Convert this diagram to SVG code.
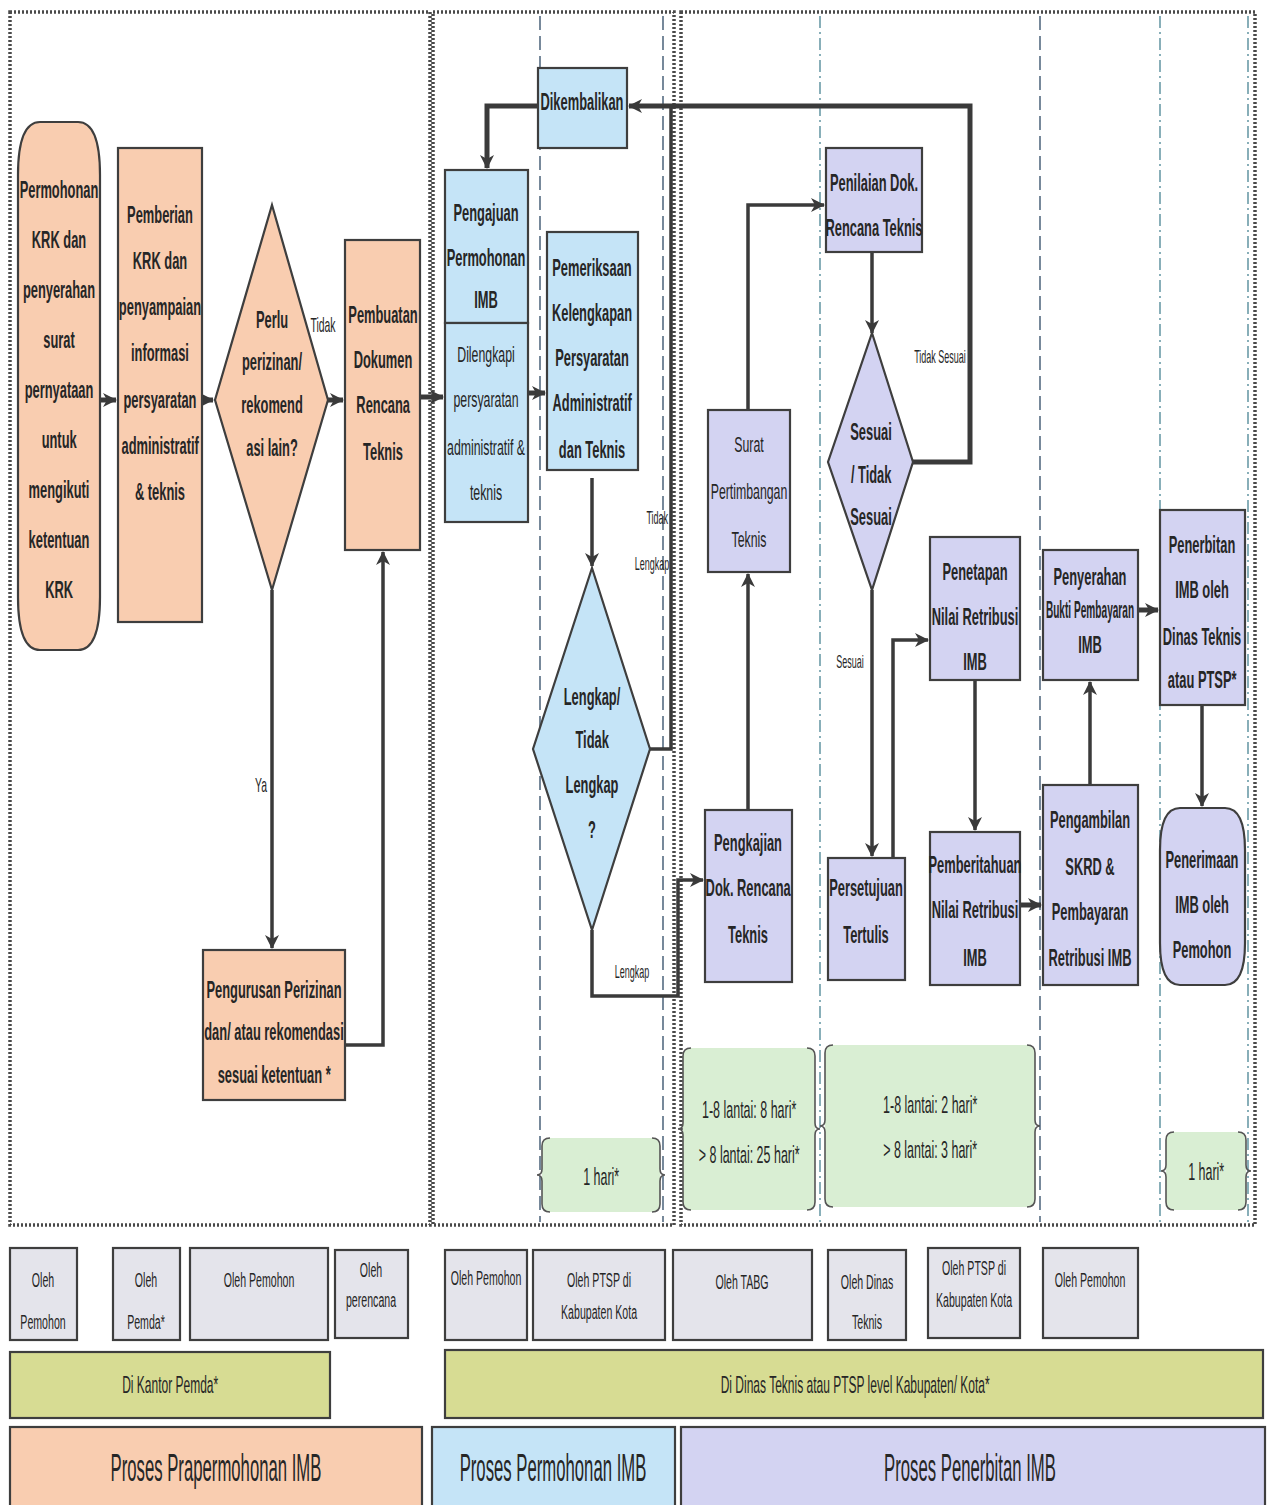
<svg xmlns="http://www.w3.org/2000/svg" width="1271" height="1505" viewBox="0 0 1271 1505">
<defs>
<marker id="arr" markerUnits="userSpaceOnUse" markerWidth="14" markerHeight="14" refX="13" refY="7" orient="auto">
<path d="M0,0 L14,7 L0,14 L4,7 z" fill="#3a3a3a"/>
</marker>
</defs>
<style>
.box{stroke:#3e3e3e;stroke-width:2.2}
.pa{fill:#f9cdb0}.bl{fill:#c5e4f7}.lv{fill:#d3d3f2}.gr{fill:#d9eed3}.gy{fill:#e4e4eb}.ol{fill:#d7dc93}
.frame{fill:none;stroke:#4a4a4a;stroke-width:3.5;stroke-dasharray:2 2}
.lane{fill:none;stroke:#2f4a66;stroke-width:1.3;stroke-dasharray:14 6}
.lane2{fill:none;stroke:#3a7a8a;stroke-width:1.2;stroke-dasharray:12 4 2 4}
.c{fill:none;stroke:#3a3a3a;stroke-width:3.5}
.ct{fill:none;stroke:#3a3a3a;stroke-width:5}
.brace{fill:none;stroke:#555;stroke-width:1.6}
text{font-family:"Liberation Sans",Arial,sans-serif;fill:#262626;transform-box:fill-box;transform-origin:center}
.n{font-size:23px;font-weight:bold;text-anchor:middle;dominant-baseline:central;transform:scaleX(.56)}
.nr{font-size:22px;text-anchor:middle;dominant-baseline:central;transform:scaleX(.56)}
.sq{font-size:23px;font-weight:bold;text-anchor:middle;dominant-baseline:central;transform:scaleX(.44)}
.lb{font-size:20px;text-anchor:middle;dominant-baseline:central;transform:scaleX(.52)}
.ls{font-size:18px;text-anchor:middle;dominant-baseline:central;transform:scaleX(.5)}
.ob{font-size:20px;text-anchor:middle;dominant-baseline:central;transform:scaleX(.53)}
.bar{font-size:24px;text-anchor:middle;dominant-baseline:central;transform:scaleX(.5)}
.big{font-size:38px;text-anchor:middle;dominant-baseline:central;transform:scaleX(.44)}
.tm{font-size:24px;text-anchor:middle;dominant-baseline:central;transform:scaleX(.52)}
</style>
<rect width="1271" height="1505" fill="#ffffff"/>

<g id="frames">
<rect class="frame" x="10" y="12" width="420" height="1213"/>
<rect class="frame" x="433" y="12" width="241" height="1213"/>
<rect class="frame" x="681" y="12" width="574" height="1213"/>
<line class="lane" x1="540" y1="16" x2="540" y2="1222"/>
<line class="lane" x1="663" y1="16" x2="663" y2="1222"/>
<line class="lane2" x1="820" y1="16" x2="820" y2="1222"/>
<line class="lane" x1="1040" y1="16" x2="1040" y2="1222"/>
<line class="lane2" x1="1160" y1="16" x2="1160" y2="1222"/>
<line class="lane2" x1="1248" y1="16" x2="1248" y2="1222"/>
</g>

<g id="connectors">
<path class="ct" d="M100,400 H116" marker-end="url(#arr)"/>
<path class="ct" d="M202,400 H213" marker-end="url(#arr)"/>
<path class="ct" d="M328,400 H343" marker-end="url(#arr)"/>
<path class="c" d="M272,590 V948" marker-end="url(#arr)"/>
<path class="c" d="M345,1045 H383 V552" marker-end="url(#arr)"/>
<path class="ct" d="M420,397 H443" marker-end="url(#arr)"/>
<path class="ct" d="M913,462 H970 V106 H629" marker-end="url(#arr)"/>
<path class="c" d="M650,749 H671 V106"/>
<path class="ct" d="M538,106 H487 V168" marker-end="url(#arr)"/>
<path class="ct" d="M528,393 H545" marker-end="url(#arr)"/>
<path class="c" d="M592,478 V566" marker-end="url(#arr)"/>
<path class="c" d="M592,930 V996 H678 V880 H703" marker-end="url(#arr)"/>
<path class="c" d="M748,810 V574" marker-end="url(#arr)"/>
<path class="c" d="M748,410 V205 H824" marker-end="url(#arr)"/>
<path class="c" d="M872,252 V333" marker-end="url(#arr)"/>
<path class="c" d="M872,590 V856" marker-end="url(#arr)"/>
<path class="c" d="M893,858 V640 H928" marker-end="url(#arr)"/>
<path class="c" d="M975,680 V830" marker-end="url(#arr)"/>
<path class="ct" d="M1020,905 H1041" marker-end="url(#arr)"/>
<path class="c" d="M1090,785 V682" marker-end="url(#arr)"/>
<path class="ct" d="M1138,610 H1158" marker-end="url(#arr)"/>
<path class="c" d="M1202,705 V806" marker-end="url(#arr)"/>
<text class="lb" x="323" y="325">Tidak</text>
<text class="lb" x="261" y="785">Ya</text>
<text class="ls" x="657" y="518">Tidak</text>
<text class="ls" x="652" y="564">Lengkap</text>
<text class="ls" x="632" y="972">Lengkap</text>
<text class="ls" x="940" y="357">Tidak Sesuai</text>
<text class="ls" x="850" y="662">Sesuai</text>
</g>

<g id="n-permohonan-krk">
<path class="box pa" d="M40,122 H78 Q100,122 100,175 V597 Q100,650 78,650 H40 Q18,650 18,597 V175 Q18,122 40,122 Z"/>
<text class="n" x="59" y="190">Permohonan</text>
<text class="n" x="59" y="240">KRK dan</text>
<text class="n" x="59" y="290">penyerahan</text>
<text class="n" x="59" y="340">surat</text>
<text class="n" x="59" y="390">pernyataan</text>
<text class="n" x="59" y="440">untuk</text>
<text class="n" x="59" y="490">mengikuti</text>
<text class="n" x="59" y="540">ketentuan</text>
<text class="n" x="59" y="590">KRK</text>
</g>

<g id="n-pemberian-krk">
<rect class="box pa" x="118" y="148" width="84" height="474"/>
<text class="n" x="160" y="215">Pemberian</text>
<text class="n" x="160" y="261">KRK dan</text>
<text class="n" x="160" y="307">penyampaian</text>
<text class="n" x="160" y="353">informasi</text>
<text class="n" x="160" y="400">persyaratan</text>
<text class="n" x="160" y="446">administratif</text>
<text class="n" x="160" y="492">&amp; teknis</text>
</g>

<g id="n-perlu-perizinan">
<polygon class="box pa" points="272,205 328,400 272,590 215,400"/>
<text class="n" x="272" y="320">Perlu</text>
<text class="n" x="272" y="362">perizinan/</text>
<text class="n" x="272" y="405">rekomend</text>
<text class="n" x="272" y="448">asi lain?</text>
</g>

<g id="n-pembuatan-dokumen">
<rect class="box pa" x="345" y="240" width="75" height="310"/>
<text class="n" x="383" y="315">Pembuatan</text>
<text class="n" x="383" y="360">Dokumen</text>
<text class="n" x="383" y="405">Rencana</text>
<text class="n" x="383" y="452">Teknis</text>
</g>

<g id="n-pengurusan-perizinan">
<rect class="box pa" x="203" y="950" width="142" height="150"/>
<text class="n" x="274" y="990">Pengurusan Perizinan</text>
<text class="n" x="274" y="1032">dan/ atau rekomendasi</text>
<text class="n" x="274" y="1075">sesuai ketentuan *</text>
</g>

<g id="n-dikembalikan">
<rect class="box bl" x="538" y="68" width="89" height="80"/>
<text class="n" x="582" y="102">Dikembalikan</text>
</g>

<g id="n-pengajuan">
<rect class="box bl" x="445" y="170" width="83" height="153"/>
<text class="n" x="486" y="213">Pengajuan</text>
<text class="n" x="486" y="258">Permohonan</text>
<text class="n" x="486" y="300">IMB</text>
</g>

<g id="n-dilengkapi">
<rect class="box bl" x="445" y="323" width="83" height="199"/>
<text class="nr" x="486" y="355">Dilengkapi</text>
<text class="nr" x="486" y="400">persyaratan</text>
<text class="nr" x="486" y="448">administratif &amp;</text>
<text class="nr" x="486" y="493">teknis</text>
</g>

<g id="n-pemeriksaan">
<rect class="box bl" x="547" y="232" width="91" height="238"/>
<text class="n" x="592" y="268">Pemeriksaan</text>
<text class="n" x="592" y="313">Kelengkapan</text>
<text class="n" x="592" y="358">Persyaratan</text>
<text class="n" x="592" y="403">Administratif</text>
<text class="n" x="592" y="450">dan Teknis</text>
</g>

<g id="n-lengkap">
<polygon class="box bl" points="592,568 650,749 592,930 533,749"/>
<text class="n" x="592" y="697">Lengkap/</text>
<text class="n" x="592" y="740">Tidak</text>
<text class="n" x="592" y="785">Lengkap</text>
<text class="n" x="592" y="830">?</text>
</g>

<g id="n-pengkajian">
<rect class="box lv" x="705" y="810" width="87" height="172"/>
<text class="n" x="748" y="843">Pengkajian</text>
<text class="n" x="748" y="888">Dok. Rencana</text>
<text class="n" x="748" y="935">Teknis</text>
</g>

<g id="n-surat-pertimbangan">
<rect class="box lv" x="708" y="410" width="82" height="162"/>
<text class="nr" x="749" y="445">Surat</text>
<text class="nr" x="749" y="492">Pertimbangan</text>
<text class="nr" x="749" y="540">Teknis</text>
</g>

<g id="n-penilaian">
<rect class="box lv" x="826" y="148" width="96" height="104"/>
<text class="n" x="874" y="183">Penilaian Dok.</text>
<text class="n" x="874" y="228">Rencana Teknis</text>
</g>

<g id="n-sesuai">
<polygon class="box lv" points="872,333 913,462 872,590 828,462"/>
<text class="n" x="871" y="432">Sesuai</text>
<text class="n" x="871" y="475">/ Tidak</text>
<text class="n" x="871" y="517">Sesuai</text>
</g>

<g id="n-persetujuan">
<rect class="box lv" x="828" y="858" width="77" height="122"/>
<text class="n" x="866" y="888">Persetujuan</text>
<text class="n" x="866" y="935">Tertulis</text>
</g>

<g id="n-penetapan">
<rect class="box lv" x="930" y="537" width="90" height="143"/>
<text class="n" x="975" y="572">Penetapan</text>
<text class="n" x="975" y="617">Nilai Retribusi</text>
<text class="n" x="975" y="662">IMB</text>
</g>

<g id="n-pemberitahuan">
<rect class="box lv" x="930" y="832" width="90" height="153"/>
<text class="n" x="975" y="865">Pemberitahuan</text>
<text class="n" x="975" y="910">Nilai Retribusi</text>
<text class="n" x="975" y="958">IMB</text>
</g>

<g id="n-penyerahan">
<rect class="box lv" x="1043" y="550" width="95" height="130"/>
<text class="n" x="1090" y="577">Penyerahan</text>
<text class="sq" x="1090" y="610">Bukti Pembayaran</text>
<text class="n" x="1090" y="645">IMB</text>
</g>

<g id="n-pengambilan">
<rect class="box lv" x="1043" y="785" width="95" height="200"/>
<text class="n" x="1090" y="820">Pengambilan</text>
<text class="n" x="1090" y="867">SKRD &amp;</text>
<text class="n" x="1090" y="912">Pembayaran</text>
<text class="n" x="1090" y="958">Retribusi IMB</text>
</g>

<g id="n-penerbitan">
<rect class="box lv" x="1160" y="510" width="85" height="195"/>
<text class="n" x="1202" y="545">Penerbitan</text>
<text class="n" x="1202" y="590">IMB oleh</text>
<text class="n" x="1202" y="637">Dinas Teknis</text>
<text class="n" x="1202" y="680">atau PTSP*</text>
</g>

<g id="n-penerimaan">
<path class="box lv" d="M1180,808 H1225 Q1245,808 1245,850 V943 Q1245,985 1225,985 H1180 Q1160,985 1160,943 V850 Q1160,808 1180,808 Z"/>
<text class="n" x="1202" y="860">Penerimaan</text>
<text class="n" x="1202" y="905">IMB oleh</text>
<text class="n" x="1202" y="950">Pemohon</text>
</g>

<g id="t-permohonan-1hari">
<rect class="gr" x="542" y="1138" width="118" height="74" rx="8"/>
<path class="brace" d="M550,1138 Q542,1138 542,1146 V1169 Q542,1175 537,1175 Q542,1175 542,1181 V1204 Q542,1212 550,1212"/>
<path class="brace" d="M652,1138 Q660,1138 660,1146 V1169 Q660,1175 665,1175 Q660,1175 660,1181 V1204 Q660,1212 652,1212"/>
<text class="tm" x="601" y="1177">1 hari*</text>
</g>

<g id="t-tabg">
<rect class="gr" x="683" y="1048" width="132" height="162" rx="8"/>
<path class="brace" d="M691,1048 Q683,1048 683,1056 V1123 Q683,1129 678,1129 Q683,1129 683,1135 V1202 Q683,1210 691,1210"/>
<path class="brace" d="M807,1048 Q815,1048 815,1056 V1123 Q815,1129 820,1129 Q815,1129 815,1135 V1202 Q815,1210 807,1210"/>
<text class="tm" x="749" y="1110">1-8 lantai: 8 hari*</text>
<text class="tm" x="749" y="1155">&gt; 8 lantai: 25 hari*</text>
</g>

<g id="t-dinas">
<rect class="gr" x="825" y="1045" width="210" height="162" rx="8"/>
<path class="brace" d="M833,1045 Q825,1045 825,1053 V1120 Q825,1126 820,1126 Q825,1126 825,1132 V1199 Q825,1207 833,1207"/>
<path class="brace" d="M1027,1045 Q1035,1045 1035,1053 V1120 Q1035,1126 1040,1126 Q1035,1126 1035,1132 V1199 Q1035,1207 1027,1207"/>
<text class="tm" x="930" y="1105">1-8 lantai: 2 hari*</text>
<text class="tm" x="930" y="1150">&gt; 8 lantai: 3 hari*</text>
</g>

<g id="t-penerbitan-1hari">
<rect class="gr" x="1166" y="1132" width="80" height="78" rx="8"/>
<path class="brace" d="M1174,1132 Q1166,1132 1166,1140 V1165 Q1166,1171 1161,1171 Q1166,1171 1166,1177 V1202 Q1166,1210 1174,1210"/>
<path class="brace" d="M1238,1132 Q1246,1132 1246,1140 V1165 Q1246,1171 1251,1171 Q1246,1171 1246,1177 V1202 Q1246,1210 1238,1210"/>
<text class="tm" x="1206" y="1172">1 hari*</text>
</g>

<g id="actors">
<rect class="box gy" x="10" y="1248" width="67" height="92"/>
<text class="ob" x="43" y="1280">Oleh</text>
<text class="ob" x="43" y="1322">Pemohon</text>
<rect class="box gy" x="113" y="1248" width="67" height="92"/>
<text class="ob" x="146" y="1280">Oleh</text>
<text class="ob" x="146" y="1322">Pemda*</text>
<rect class="box gy" x="190" y="1248" width="138" height="92"/>
<text class="ob" x="259" y="1280">Oleh Pemohon</text>
<rect class="box gy" x="335" y="1250" width="73" height="88"/>
<text class="ob" x="371" y="1270">Oleh</text>
<text class="ob" x="371" y="1300">perencana</text>
<rect class="box gy" x="445" y="1250" width="82" height="90"/>
<text class="ob" x="486" y="1278">Oleh Pemohon</text>
<rect class="box gy" x="533" y="1250" width="132" height="90"/>
<text class="ob" x="599" y="1280">Oleh PTSP di</text>
<text class="ob" x="599" y="1312">Kabupaten Kota</text>
<rect class="box gy" x="673" y="1250" width="139" height="90"/>
<text class="ob" x="742" y="1282">Oleh TABG</text>
<rect class="box gy" x="828" y="1250" width="78" height="90"/>
<text class="ob" x="867" y="1282">Oleh Dinas</text>
<text class="ob" x="867" y="1322">Teknis</text>
<rect class="box gy" x="928" y="1248" width="92" height="90"/>
<text class="ob" x="974" y="1268">Oleh PTSP di</text>
<text class="ob" x="974" y="1300">Kabupaten Kota</text>
<rect class="box gy" x="1043" y="1248" width="95" height="90"/>
<text class="ob" x="1090" y="1280">Oleh Pemohon</text>
</g>

<g id="locations">
<rect class="box ol" x="10" y="1352" width="320" height="66"/>
<text class="bar" x="170" y="1385">Di Kantor Pemda*</text>
<rect class="box ol" x="445" y="1350" width="818" height="68"/>
<text class="bar" x="855" y="1385">Di Dinas Teknis atau PTSP level Kabupaten/ Kota*</text>
</g>

<g id="phases">
<rect class="box pa" x="10" y="1427" width="412" height="80"/>
<text class="big" x="216" y="1467">Proses Prapermohonan  IMB</text>
<rect class="box bl" x="432" y="1427" width="243" height="80"/>
<text class="big" x="553" y="1467">Proses Permohonan IMB</text>
<rect class="box lv" x="681" y="1427" width="584" height="80"/>
<text class="big" x="970" y="1467">Proses Penerbitan IMB</text>
</g>
</svg>
